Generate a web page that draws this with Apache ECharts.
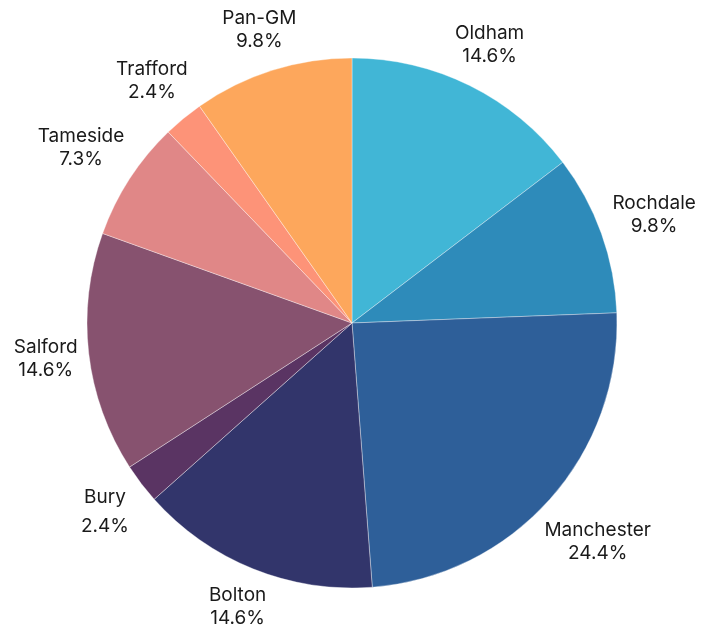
<!DOCTYPE html>
<html><head><meta charset="utf-8">
<script src="https://cdn.jsdelivr.net/npm/echarts@6/dist/echarts.min.js"></script>
<style>html,body{margin:0;padding:0;background:#fff}#c{width:704px;height:633px}</style>
</head><body><div id="c"></div>
<script>
const categories = ['Oldham','Rochdale','Manchester','Bolton','Bury','Salford','Tameside','Trafford','Pan-GM'];
const values = [6,4,10,6,1,6,3,1,4];
const colors = ['#41b6d6','#2e8bba','#2e5f99','#32356b','#5a3463','#87526f','#e08787','#fd9378','#fda75c'];

const cx = 352, cy = 323, R = 265, R0 = 274;
const total = values.reduce((a,b)=>a+b,0);
const mids = [];
let acc = 0;
values.forEach(v => { mids.push((acc + v/2)/total*2*Math.PI); acc += v; });

const chart = echarts.init(document.getElementById('c'));
chart.setOption({
  animation:false,
  series:[{
    type:'pie',
    center:[cx,cy],
    radius:[0,R],
    startAngle:90,
    clockwise:true,
    data: categories.map((n,i)=>({name:n,value:values[i],itemStyle:{color:colors[i]},
      label: n==='Bury' ? {lineHeight:29} : undefined})),
    itemStyle:{borderColor:'rgba(255,255,255,0.6)',borderWidth:0.6},
    label:{
      show:true,position:'outside',overflow:'none',edgeDistance:0,
      formatter: p => p.name + '\n' + (p.value/total*100).toFixed(1) + '%',
      fontFamily:'Inter, "Noto Sans", sans-serif',fontSize:19,color:'#1a1a1a',
      lineHeight:23,align:'center'
    },
    labelLine:{show:false,length:10,length2:0},
    emphasis:{disabled:true}
  }]
});
chart.setOption({series:[{
  labelLayout: function(p){
    const a = mids[p.dataIndex];
    const ux = Math.sin(a), uy = -Math.cos(a);
    const w = p.labelRect.width, h = p.labelRect.height;
    const r = R0 + w/2*Math.abs(ux) + h/2*Math.abs(uy);
    return {x: cx + r*ux, y: cy + r*uy, align:'center', verticalAlign:'middle'};
  }
}]});
</script></body></html>
